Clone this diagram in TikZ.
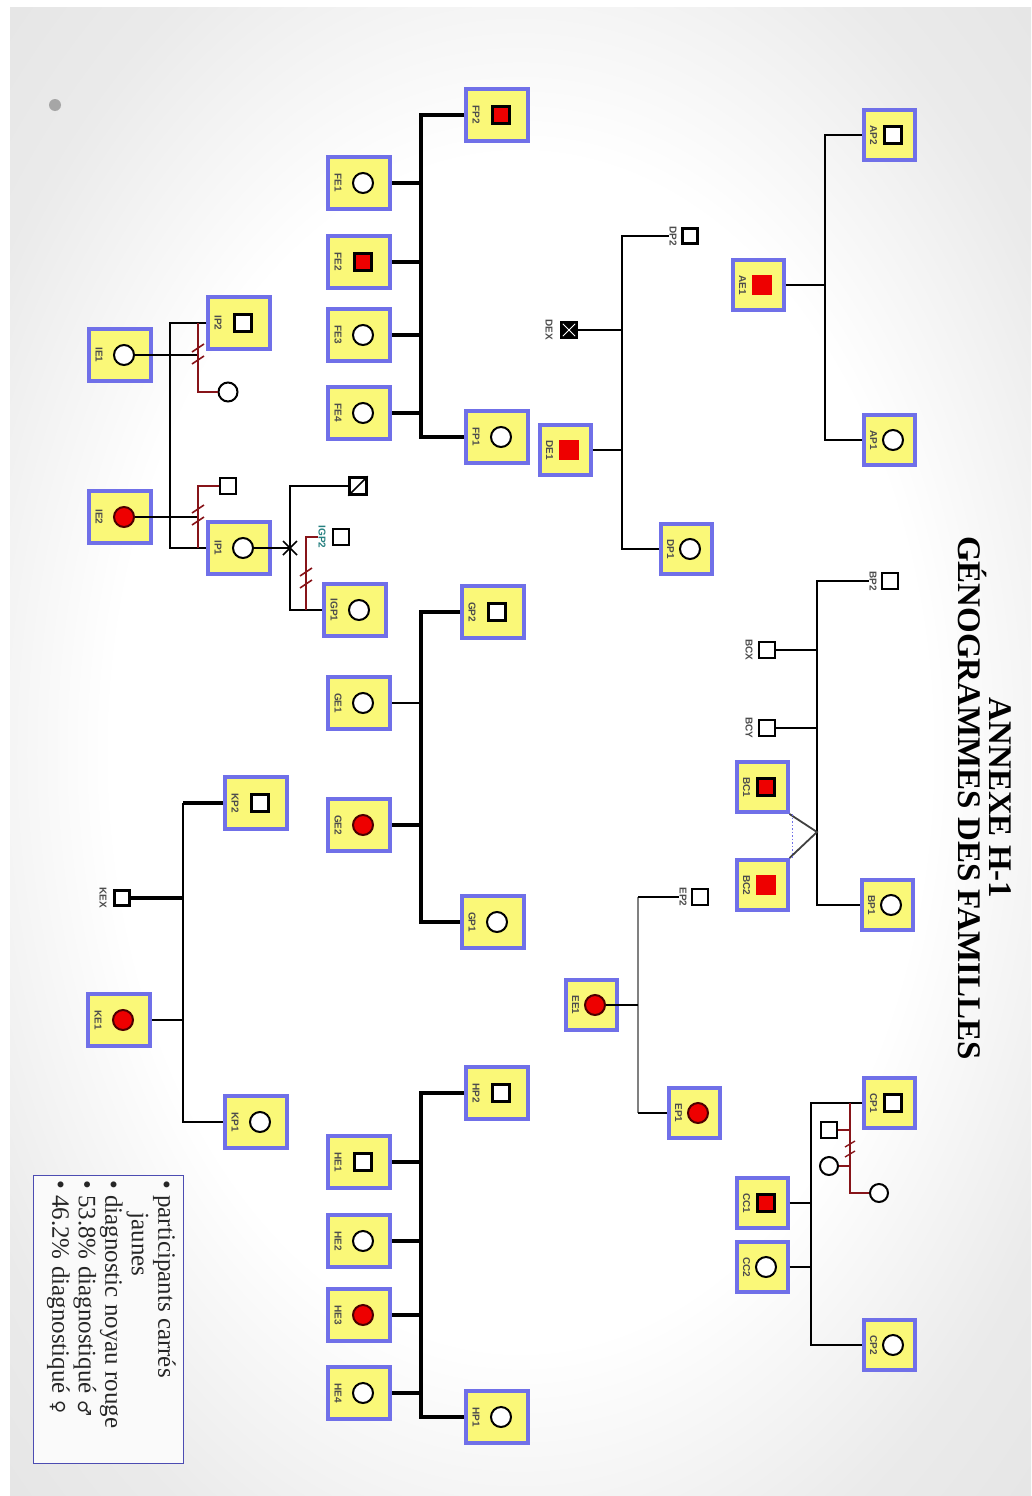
\documentclass[tikz,border=0pt]{standalone}
\usepackage{fontspec}
\setmainfont{Liberation Serif}
\setsansfont{Liberation Sans}
\newfontfamily\symfont{DejaVu Sans}
\usepackage{tikz}
\usetikzlibrary{calc}

\definecolor{boxyellow}{RGB}{250,248,120}
\definecolor{boxblue}{RGB}{112,112,232}
\definecolor{exred}{RGB}{135,20,25}
\definecolor{affred}{RGB}{238,0,0}
\pgfdeclareradialshading{slide}{\pgfpoint{0bp}{0bp}}{color(0bp)=(white); color(20bp)=(white); color(30bp)=(gray!16); color(50bp)=(gray!30)}

% one boxed participant: name, position, label, symbol style, box style
\newcommand{\famperson}[5]{%
  \node[#5] (#1) at (#2) {};
  \node[lbl] (#1l) at ([xshift=12pt]#1.west) {#3};
  \node[#4] (#1s) at ([xshift=4pt]#1.center) {};
}

\begin{document}
\begin{tikzpicture}[x=1pt, y=-1pt,
    pbox/.style={draw=boxblue, line width=4pt, fill=boxyellow, minimum width=62pt, minimum height=52pt, inner sep=0pt},
    pboxs/.style={pbox, minimum width=51pt, minimum height=50pt},
    male/.style={draw=black, line width=2.4pt, fill=white, minimum size=17pt, inner sep=0pt},
    malethick/.style={male, line width=3.4pt},
    maleaff/.style={male, fill=affred},
    maleaffnb/.style={male, draw=affred, fill=affred},
    female/.style={circle, draw=black, line width=2pt, fill=white, minimum size=20pt, inner sep=0pt},
    femaleaff/.style={female, fill=affred, draw=black!70!red},
    lbl/.style={rotate=-90, font=\sffamily\bfseries\fontsize{10}{10}\selectfont, text=black!70, inner sep=0.5pt},
    kin/.style={line width=3.6pt},
    kinthin/.style={line width=2.6pt},
    exline/.style={draw=exred, line width=2.2pt}]

\useasboundingbox (0,0) rectangle (1031,1496);
\fill[white] (0,0) rectangle (1031,1496);
\shade[shading=slide] (10,8) rectangle (1031,1496);
\fill[gray!70] (55,105) circle (6);

% title
\node[rotate=-90, align=center, font=\bfseries\fontsize{33}{31}\selectfont] (title) at (985,798)
  {ANNEXE H-1\\GÉNOGRAMMES DES FAMILLES};

% family F
\famperson{FP2}{497,115}{FP2}{maleaff}{pbox}
\famperson{FE1}{359,183}{FE1}{female}{pbox}
\famperson{FE2}{359,262}{FE2}{maleaff}{pbox}
\famperson{FE3}{359,335}{FE3}{female}{pbox}
\famperson{FE4}{359,413}{FE4}{female}{pbox}
\famperson{FP1}{497,437}{FP1}{female}{pbox}
\coordinate (Fbar) at (421,0);
\draw[kin] (FP2.west) -- (FP2.west -| Fbar) -- (FP1.west -| Fbar) -- (FP1.west);
\foreach \c in {FE1,FE2,FE3,FE4} \draw[kin] (\c.east) -- (\c.east -| Fbar);

% family I
\famperson{IE1}{120,355}{IE1}{female}{pbox}
\famperson{IP2}{239,323}{IP2}{male}{pbox}
\famperson{IE2}{120,517}{IE2}{femaleaff}{pbox}
\famperson{IP1}{239,548}{IP1}{female}{pbox}
\famperson{IGP1}{355,610}{IGP1}{female}{pbox}
\node[female, minimum size=19pt] (ISc) at (228,392) {};
\node[male, minimum size=16pt] (ISq) at (228,486) {};
\node[male, minimum size=17pt] (IDs) at (358,486) {};
\draw[line width=1.6pt] (IDs.south west) -- (IDs.north east);
\node[male, minimum size=16pt] (IGP2s) at (341,537) {};
\node[lbl, text=teal!70!gray] (IGP2l) at (322,537) {IGP2};
\coordinate (Ibar) at (170,0);
\coordinate (Ired) at (198,0);
\coordinate (IGred) at (306,0);
\coordinate (Istar) at (290,548);
\draw[kinthin] (IP2.west) -- (IP2.west -| Ibar) -- (IP1.west -| Ibar) -- (IP1.west);
\draw[kinthin] (IE1s) -- (IE1s -| Ired);
\draw[kinthin] (IE2s) -- (IE2s -| Ired);
\draw[exline] (IP2.west -| Ired) -- (ISc -| Ired) -- (ISc);
\draw[exline] (ISq) -- (ISq -| Ired) -- (IP1.west -| Ired);
\draw[exline, line width=1.6pt] (192,352) -- (204,344) (192,364) -- (204,356);
\draw[exline, line width=1.6pt] (192,513) -- (204,505) (192,525) -- (204,517);
\draw[kinthin] (IP1s) -- (Istar);
\draw[kinthin] (IDs) -- (IDs -| Istar) -- (IGP1.west -| Istar) -- (IGP1.west);
\draw[line width=1.5pt] (283,541) -- (297,555) (283,555) -- (297,541) (290,539) -- (290,557);
\draw[exline] (IGP2l) -- (IGP2l -| IGred) -- (IGP1.west -| IGred);
\draw[exline, line width=1.6pt] (300,576) -- (312,568) (300,588) -- (312,580);

% family G
\famperson{GP2}{493,612}{GP2}{malethick}{pbox}
\famperson{GE1}{359,703}{GE1}{female}{pbox}
\famperson{GE2}{359,825}{GE2}{femaleaff}{pbox}
\famperson{GP1}{493,922}{GP1}{female}{pbox}
\coordinate (Gbar) at (421,0);
\draw[kin] (GP2.west) -- (GP2.west -| Gbar) -- (GP1.west -| Gbar) -- (GP1.west);
\draw[kinthin] (GE1.east) -- (GE1.east -| Gbar);
\draw[kin] (GE2.east) -- (GE2.east -| Gbar);

% family K
\famperson{KP2}{256,803}{KP2}{malethick}{pbox}
\famperson{KE1}{119,1020}{KE1}{femaleaff}{pbox}
\famperson{KP1}{256,1122}{KP1}{female}{pbox}
\node[malethick, minimum size=15pt] (KEX) at (122,898) {};
\node[lbl] (KEXl) at (103,898) {KEX};
\coordinate (Kbar) at (183,0);
\draw[kin] (KP2.west) -- (KP2.west -| Kbar);
\draw[kinthin] (KP2.west -| Kbar) -- (KP1.west -| Kbar) -- (KP1.west);
\draw[kin] (KEX) -- (KEX -| Kbar);
\draw[kinthin] (KE1.east) -- (KE1.east -| Kbar);

% family H
\famperson{HP2}{497,1093}{HP2}{malethick}{pbox}
\famperson{HE1}{359,1162}{HE1}{malethick}{pbox}
\famperson{HE2}{359,1241}{HE2}{female}{pbox}
\famperson{HE3}{359,1315}{HE3}{femaleaff}{pbox}
\famperson{HE4}{359,1393}{HE4}{female}{pbox}
\famperson{HP1}{497,1417}{HP1}{female}{pbox}
\coordinate (Hbar) at (421,0);
\draw[kin] (HP2.west) -- (HP2.west -| Hbar) -- (HP1.west -| Hbar) -- (HP1.west);
\foreach \c in {HE1,HE2,HE3,HE4} \draw[kin] (\c.east) -- (\c.east -| Hbar);

% family D
\famperson{DE1}{565,450}{DE1}{maleaffnb}{pboxs}
\famperson{DP1}{686,549}{DP1}{female}{pboxs}
\node[malethick, minimum size=15pt] (DP2) at (690,236) {};
\node[lbl] (DP2l) at (673,236) {DP2};
\node[male, fill=black, minimum size=16pt] (DEX) at (569,330) {};
\draw[white, line width=0.8pt] ([shift={(3,3)}]DEX.north west) -- ([shift={(-3,-3)}]DEX.south east);
\draw[white, line width=0.8pt] ([shift={(3,-3)}]DEX.south west) -- ([shift={(-3,3)}]DEX.north east);
\node[lbl] (DEXl) at (549,330) {DEX};
\coordinate (Dbar) at (622,0);
\draw[kinthin] (DP2l) -- (DP2l -| Dbar) -- (DP1.west -| Dbar) -- (DP1.west);
\draw[kinthin] (DEX) -- (DEX -| Dbar);
\draw[kinthin] (DE1.east) -- (DE1.east -| Dbar);

% family A
\famperson{AP2}{889,135}{AP2}{male}{pboxs}
\famperson{AE1}{758,285}{AE1}{maleaffnb}{pboxs}
\famperson{AP1}{889,440}{AP1}{female}{pboxs}
\coordinate (Abar) at (825,0);
\draw[kinthin] (AP2.west) -- (AP2.west -| Abar) -- (AP1.west -| Abar) -- (AP1.west);
\draw[kinthin] (AE1.east) -- (AE1.east -| Abar);

% family B
\famperson{BC1}{762,787}{BC1}{maleaff}{pboxs}
\famperson{BC2}{762,885}{BC2}{maleaffnb}{pboxs}
\famperson{BP1}{887,905}{BP1}{female}{pboxs}
\node[male, minimum size=16pt] (BP2) at (890,581) {};
\node[lbl] (BP2l) at (873,581) {BP2};
\node[male, minimum size=16pt] (BCX) at (767,650) {};
\node[lbl] (BCXl) at (749,650) {BCX};
\node[male, minimum size=16pt] (BCY) at (767,728) {};
\node[lbl] (BCYl) at (749,728) {BCY};
\coordinate (Bbar) at (817,0);
\coordinate (Btwin) at (817,832);
\draw[kinthin] (BP2l) -- (BP2l -| Bbar) -- (BP1.west -| Bbar) -- (BP1.west);
\draw[kinthin] (BCX) -- (BCX -| Bbar);
\draw[kinthin] (BCY) -- (BCY -| Bbar);
\draw[line width=1.8pt, black!75] (BC1.south east) -- (Btwin) -- (BC2.north east);
\draw[dotted, line width=1.5pt, boxblue] ([xshift=3pt]BC1.south east) -- ([xshift=3pt]BC2.north east);

% family E
\famperson{EE1}{591,1005}{EE1}{femaleaff}{pboxs}
\famperson{EP1}{694,1113}{EP1}{femaleaff}{pboxs}
\node[male, minimum size=16pt] (EP2) at (700,897) {};
\node[lbl] (EP2l) at (683,897) {EP2};
\coordinate (Ebar) at (638,0);
\draw[kinthin, gray] (EP2l -| Ebar) -- (EP1.west -| Ebar);
\draw[kinthin] (EP2l) -- (EP2l -| Ebar);
\draw[kinthin] (EP1.west) -- (EP1.west -| Ebar);
\draw[kinthin] (EE1s) -- (EE1s -| Ebar);

% family C
\famperson{CP1}{889,1103}{CP1}{male}{pboxs}
\famperson{CC1}{762,1203}{CC1}{maleaff}{pboxs}
\famperson{CC2}{762,1267}{CC2}{female}{pboxs}
\famperson{CP2}{889,1345}{CP2}{female}{pboxs}
\node[male, minimum size=16pt] (CXq) at (829,1130) {};
\node[female, minimum size=18pt] (CXc) at (829,1166) {};
\node[female, minimum size=18pt] (CXw) at (879,1193) {};
\coordinate (Cbar) at (811,0);
\coordinate (Cred) at (850,0);
\draw[kinthin] (CP1.west) -- (CP1.west -| Cbar) -- (CP2.west -| Cbar) -- (CP2.west);
\draw[kinthin] (CC1.east) -- (CC1.east -| Cbar);
\draw[kinthin] (CC2.east) -- (CC2.east -| Cbar);
\draw[exline] (CP1.west -| Cred) -- (CXw -| Cred) -- (CXw);
\draw[exline] (CXq) -- (CXq -| Cred);
\draw[exline] (CXc) -- (CXc -| Cred);
\draw[exline, line width=1.4pt] (845,1147) -- (855,1141) (845,1157) -- (855,1151);

% legend
\draw[gray!60!blue, line width=1pt, fill=white!96!gray] (33,1175) rectangle (183,1463);
\node[rotate=-90, anchor=north west, inner sep=0pt, align=left, text=black!85,
      font=\fontsize{25}{26.5}\selectfont] (legend) at (176,1180)
  {\textbullet\ participants carrés\\
   \hspace{1.3em}jaunes\\
   \textbullet\ diagnostic noyau rouge\\
   \textbullet\ 53.8\% diagnostiqué {\symfont\fontsize{18}{20}\selectfont ♂}\\
   \textbullet\ 46.2\% diagnostiqué {\symfont\fontsize{18}{20}\selectfont ♀}};
\end{tikzpicture}
\end{document}
